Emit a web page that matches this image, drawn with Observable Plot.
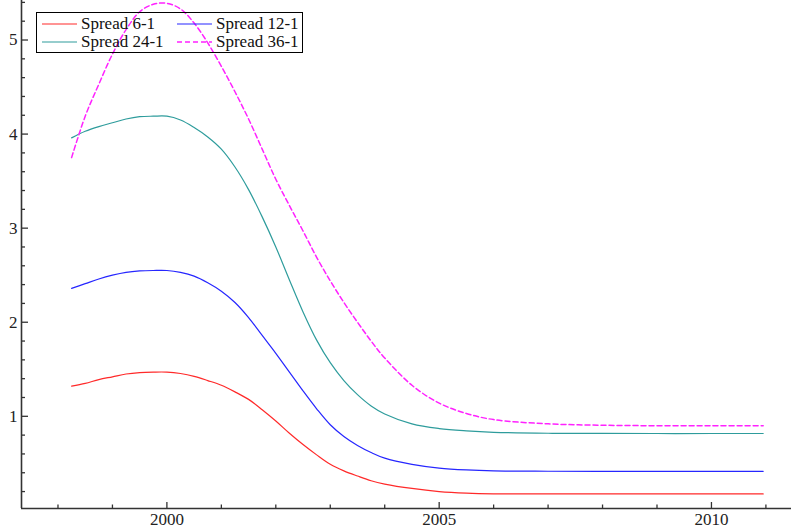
<!DOCTYPE html>
<html>
<head>
<meta charset="utf-8">
<script src="https://cdn.jsdelivr.net/npm/d3@7"></script>
<script src="https://cdn.jsdelivr.net/npm/@observablehq/plot@0.6"></script>
<style>
  html, body { margin: 0; padding: 0; background: #fff; }
  #chart { position: relative; width: 791px; height: 531px; }
</style>
</head>
<body>
<div id="chart"></div>
<script>
const years = [1998.25, 1998.5, 1998.75, 1999.0, 1999.25, 1999.5, 1999.75, 2000.0,
  2000.25, 2000.5, 2000.75, 2001.0, 2001.25, 2001.5, 2001.75, 2002.0,
  2002.25, 2002.5, 2002.75, 2003.0, 2003.25, 2003.5, 2003.75, 2004.0,
  2004.5, 2005.0, 2005.5, 2006.0, 2007.0, 2008.0, 2009.0, 2010.0, 2010.95];
const spread6 = [1.32, 1.35, 1.39, 1.42, 1.45, 1.465, 1.47, 1.47,
  1.455, 1.425, 1.38, 1.33, 1.26, 1.18, 1.07, 0.95,
  0.82, 0.70, 0.59, 0.49, 0.42, 0.365, 0.315, 0.28,
  0.233, 0.20, 0.183, 0.176, 0.175, 0.175, 0.175, 0.175, 0.175];
const spread12 = [2.36, 2.41, 2.46, 2.50, 2.53, 2.545, 2.55, 2.55,
  2.53, 2.49, 2.42, 2.33, 2.21, 2.05, 1.86, 1.67,
  1.47, 1.27, 1.08, 0.91, 0.785, 0.69, 0.615, 0.555,
  0.49, 0.45, 0.43, 0.42, 0.416, 0.415, 0.415, 0.415, 0.415];
const spread24 = [3.96, 4.03, 4.08, 4.12, 4.16, 4.185, 4.19, 4.19,
  4.15, 4.07, 3.97, 3.84, 3.65, 3.41, 3.12, 2.80,
  2.45, 2.11, 1.81, 1.57, 1.38, 1.23, 1.11, 1.025,
  0.92, 0.87, 0.845, 0.83, 0.82, 0.818, 0.817, 0.817, 0.817];
const spread36 = [3.75, 4.19, 4.53, 4.85, 5.11, 5.30, 5.38, 5.39,
  5.33, 5.18, 4.97, 4.72, 4.45, 4.16, 3.84, 3.52,
  3.24, 2.97, 2.69, 2.44, 2.21, 2.00, 1.80, 1.62,
  1.33, 1.14, 1.03, 0.965, 0.92, 0.905, 0.90, 0.90, 0.90];

const seriesNames = ["Spread 6-1", "Spread 12-1", "Spread 24-1", "Spread 36-1"];
const seriesColors = ["#ff2a2a", "#2626ff", "#2e9c9c", "#ff22ff"];
const seriesDash = [null, null, null, "5,3"];
const seriesWidth = [1.2, 1.2, 1.2, 1.5];

const xMajorTicks = [2000, 2005, 2010];
const xMinorTicks = [1998, 1999, 2001, 2002, 2003, 2004, 2006, 2007, 2008, 2009, 2011];
const yMajorTicks = [1, 2, 3, 4, 5];
const yMinorTicks = [0.2, 0.4, 0.6, 0.8, 1.2, 1.4, 1.6, 1.8, 2.2, 2.4, 2.6, 2.8,
  3.2, 3.4, 3.6, 3.8, 4.2, 4.4, 4.6, 4.8, 5.2, 5.4];

const xDomain = [1997.33, 2011.47];
const yDomain = [0.02, 5.42];

const allSeries = [spread6, spread12, spread24, spread36];
const rows = [];
allSeries.forEach((vals, s) => {
  vals.forEach((v, i) => rows.push({year: years[i], value: v, series: seriesNames[s]}));
});

const axisColor = "#333";
const lineMarks = seriesNames.map((name, s) =>
  Plot.line(rows.filter(d => d.series === name), {
    x: "year", y: "value", stroke: seriesColors[s], strokeWidth: seriesWidth[s],
    strokeDasharray: seriesDash[s], curve: "catmull-rom"
  })
);

const plot = Plot.plot({
  width: 791,
  height: 531,
  marginLeft: 21,
  marginRight: 0,
  marginTop: 0,
  marginBottom: 23,
  style: {fontFamily: "'Liberation Serif', 'Times New Roman', serif", fontSize: "17px", background: "#fff", color: "#222"},
  x: {domain: xDomain},
  y: {domain: yDomain},
  marks: [
    ...lineMarks,
    Plot.axisX({ticks: xMajorTicks, tickSize: -6, text: null, stroke: axisColor, strokeWidth: 1.3, label: null}),
    Plot.axisX({ticks: xMinorTicks, tickSize: -3.5, text: null, stroke: axisColor, strokeWidth: 1.3, label: null}),
    Plot.axisX({ticks: xMajorTicks, tickSize: 0, tickPadding: 4, tickFormat: d => String(d), label: null, fill: "#222"}),
    Plot.axisY({ticks: yMajorTicks, tickSize: -7, text: null, stroke: axisColor, strokeWidth: 1.3, label: null}),
    Plot.axisY({ticks: yMinorTicks, tickSize: -4, text: null, stroke: axisColor, strokeWidth: 1.3, label: null}),
    Plot.axisY({ticks: yMajorTicks, tickSize: 0, tickPadding: 4, tickFormat: d => String(d), label: null, fill: "#222"}),
    Plot.ruleX([xDomain[0]], {stroke: axisColor, strokeWidth: 1.6}),
    Plot.ruleY([yDomain[0]], {stroke: axisColor, strokeWidth: 1.6})
  ]
});

document.getElementById("chart").appendChild(plot);

// Legend drawn inside the plot's svg (transparent background, black border)
const svg = d3.select(plot.tagName.toLowerCase() === "svg" ? plot : plot.querySelector("svg"));
const lg = svg.append("g").attr("class", "legend")
  .attr("text-anchor", "start")
  .style("font-family", "'Liberation Serif', 'Times New Roman', serif")
  .style("font-size", "17px");
lg.append("rect").attr("x", 36.5).attr("y", 12.5).attr("width", 266).attr("height", 40)
  .attr("fill", "none").attr("stroke", "#000").attr("stroke-width", 1);
const pos = [[0, 0], [1, 0], [0, 1], [1, 1]];
const colX = [42, 177];
const rowY = [24, 42];
seriesNames.forEach((name, s) => {
  const [c, r] = pos[s];
  lg.append("line").attr("x1", colX[c]).attr("x2", colX[c] + 35)
    .attr("y1", rowY[r]).attr("y2", rowY[r])
    .attr("stroke", seriesColors[s]).attr("stroke-width", seriesWidth[s])
    .attr("stroke-dasharray", seriesDash[s]);
  lg.append("text").attr("x", colX[c] + 39).attr("y", rowY[r] + 5)
    .attr("text-anchor", "start")
    .attr("fill", "#111").text(name);
});
</script>
</body>
</html>
